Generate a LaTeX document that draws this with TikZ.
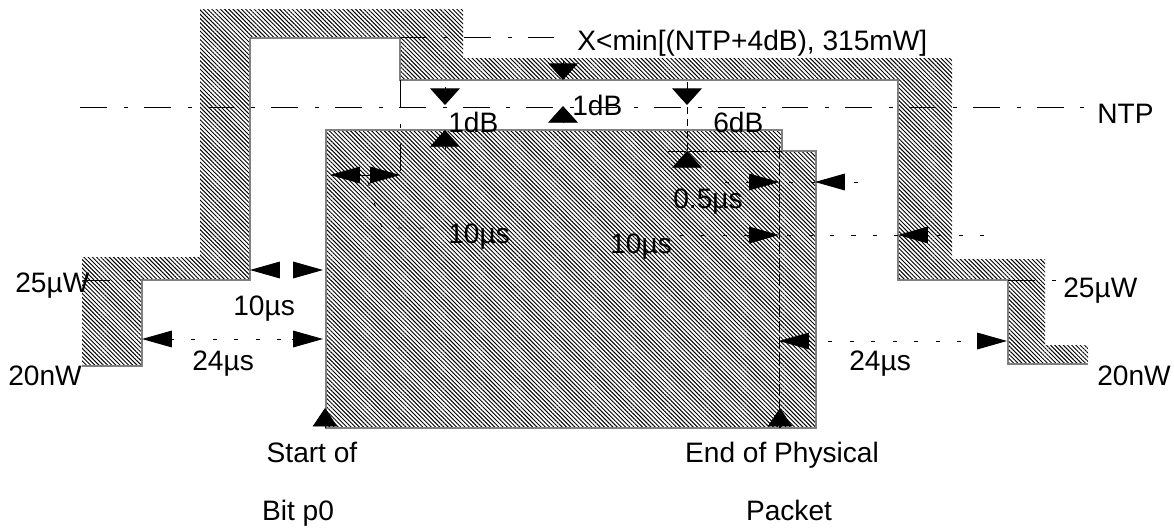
\documentclass[tikz,border=0pt]{standalone}
\usepackage{fontspec}
\setmainfont{Liberation Sans}
\usetikzlibrary{arrows.meta,patterns.meta}
\tikzset{
hatch/.style={
pattern={Lines[angle=-45,distance=1.7pt,line width=0.55pt]},
pattern color=black
},
edge/.style={
draw=gray,
line width=0.6pt
},
level/.style={
line width=0.5pt,
dash pattern=on 15.3pt off 9.6pt on 2.3pt off 9.1pt
},
dimline/.style={
line width=0.5pt,
dash pattern=on 2.3pt off 9.9pt
},
harr/.style={
-{Triangle[length=17pt,width=9.5pt]},
line width=0.5pt
},
varr/.style={
-{Triangle[length=9.5pt,width=17pt]},
line width=0.5pt
},
markarr/.style={
-{Triangle[length=10.5pt,width=14pt]},
line width=0.5pt
},
lbl/.style={
anchor=base west,
inner sep=0pt,
font=\fontsize{16}{19}\selectfont
}
}
\begin{document}
\begin{tikzpicture}[x=0.02cm,y=-0.02cm]
\useasboundingbox (0,0) rectangle (1174,528);

% spectral mask
\fill[hatch] (82,366) -- (82,257) -- (200,257) -- (200,9) -- (463,9) -- (463,58) -- (952,58) -- (952,259) -- (1045,259) -- (1045,345) -- (1088,345) -- (1088,364) -- (1008,364) -- (1008,280) -- (898,280) -- (898,80) -- (400,80) -- (400,38) -- (250,38) -- (250,280) -- (142,280) -- (142,366) -- cycle;
\draw[edge] (82,366) -- (142,366) -- (142,280) -- (250,280) -- (250,38) -- (400,38) -- (400,80) -- (898,80) -- (898,280) -- (1008,280) -- (1008,364) -- (1088,364);

% physical packet
\draw[edge,hatch] (326,130) -- (782,130) -- (782,151) -- (816,151) -- (816,428) -- (326,428) -- cycle;

% power levels
\draw[level] (80,107) -- (1085,107);
\draw[level] (400,37) -- (555,37);
\draw[level] (83,280) -- (142,280);
\draw[level] (1008,280) -- (1056,280);

% reference lines
\draw[level] (400,80) -- (400,172);
\draw[line width=0.5pt,dash pattern=on 4pt off 3pt] (687,82) -- (687,150);
\draw[line width=0.5pt,dash pattern=on 10pt off 2pt] (668,151) -- (782,151);
\draw[line width=0.5pt,dash pattern=on 7pt off 2pt] (779,147) -- (779,428);
\draw[dimline] (368,182) -- (382,228) -- (432,228);

% time spans
\draw[harr] (363,175) -- (330,175);
\draw[harr] (370,175) -- (400,175);
\draw[line width=0.5pt] (363,175) -- (370,175);
\draw[harr] (277,270) -- (250,270);
\draw[harr] (293,270) -- (323,270);
\draw[dimline] (170,339) -- (292,339);
\draw[harr] (170,339) -- (142,339);
\draw[harr] (292,339) -- (323,339);
\draw[dimline] (725,182) -- (858,182);
\draw[harr] (748,182) -- (779,182);
\draw[harr] (843,182) -- (815,182);
\draw[dimline] (680,235) -- (985,235);
\draw[harr] (748,235) -- (779,235);
\draw[harr] (928,235) -- (898,235);
\draw[dimline] (807,341) -- (977,341);
\draw[harr] (807,341) -- (779,341);
\draw[harr] (977,341) -- (1007,341);

% level steps
\draw[varr] (445,87) -- (445,105);
\draw[varr] (445,149) -- (445,130);
\draw[varr] (563,61) -- (563,80);
\draw[varr] (563,123) -- (563,106);
\draw[varr] (687,87) -- (687,105);
\draw[varr] (687,168) -- (687,151);

% start and end markers
\draw[markarr] (325,428) -- (325,408);
\draw[markarr] (780,428) -- (780,408);

\node[lbl] (xmin) at (577,50) {X<min[(NTP+4dB), 315mW]};
\node[lbl] (ntp) at (1097,123) {NTP};
\node[lbl] (upl) at (15,292) {25µW};
\node[lbl] (lowl) at (8,385) {20nW};
\node[lbl] (upr) at (1063,297) {25µW};
\node[lbl] (lowr) at (1097,385) {20nW};
\node[lbl] (dba) at (448,132) {1dB};
\node[lbl] (dbb) at (572,115) {1dB};
\node[lbl] (dbc) at (713,132) {6dB};
\node[lbl] (half) at (673,208) {0.5µs};
\node[lbl] (tena) at (448,243) {10µs};
\node[lbl] (tenb) at (610,253) {10µs};
\node[lbl] (tenc) at (233,315) {10µs};
\node[lbl] (tfl) at (192,370) {24µs};
\node[lbl] (tfr) at (849,370) {24µs};
\node[lbl,anchor=base] (start) at (312,462) {Start of};
\node[lbl,anchor=base] (bitp) at (298,520) {Bit p0};
\node[lbl,anchor=base] (endp) at (782,462) {End of Physical};
\node[lbl,anchor=base] (pkt) at (789,520) {Packet};

\end{tikzpicture}
\end{document}
